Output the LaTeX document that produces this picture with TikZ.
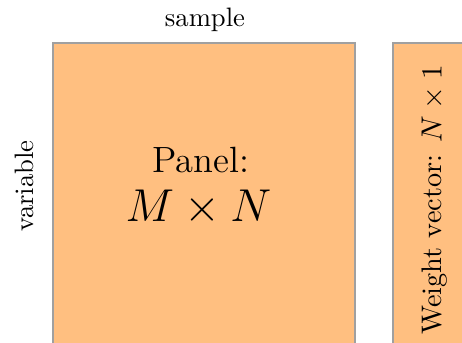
\documentclass[tikz,border=0pt]{standalone}
\usepackage{xcolor}
\definecolor{panelfill}{HTML}{FFBF80}
\definecolor{panelline}{HTML}{A0A0A0}
\tikzset{
  block/.style={fill=panelfill, draw=panelline, line width=0.45pt},
  lbl/.style={inner sep=0pt, anchor=base, font=\fontsize{10}{12}\selectfont},
}
\begin{document}
\begin{tikzpicture}[x=0.375pt, y=-0.375pt]
  \clip (0,0) rectangle (462,343);
  \useasboundingbox (0,0) rectangle (462,343);
  % data panel and weight strip (both run past the lower edge)
  \path[block] (53,43) rectangle (355,360);
  \path[block] (393,43) rectangle (480,360);
  % axis labels
  \node[lbl] (sample) at (205,26.5) {sample};
  \node[lbl, rotate=90] (variable) at (33.3,186) {variable};
  % panel caption
  \node[lbl, font=\fontsize{13.7}{16}\selectfont] (panel) at (200.5,172.3) {Panel:};
  \node[lbl, font=\fontsize{17.28}{20}\selectfont] (dims) at (198.5,221.7) {$M \times N$};
  % weight caption
  \node[lbl, rotate=90, font=\fontsize{10.6}{12}\selectfont] (weight) at (441.7,200) {Weight vector: $N \times 1$};
\end{tikzpicture}
\end{document}
